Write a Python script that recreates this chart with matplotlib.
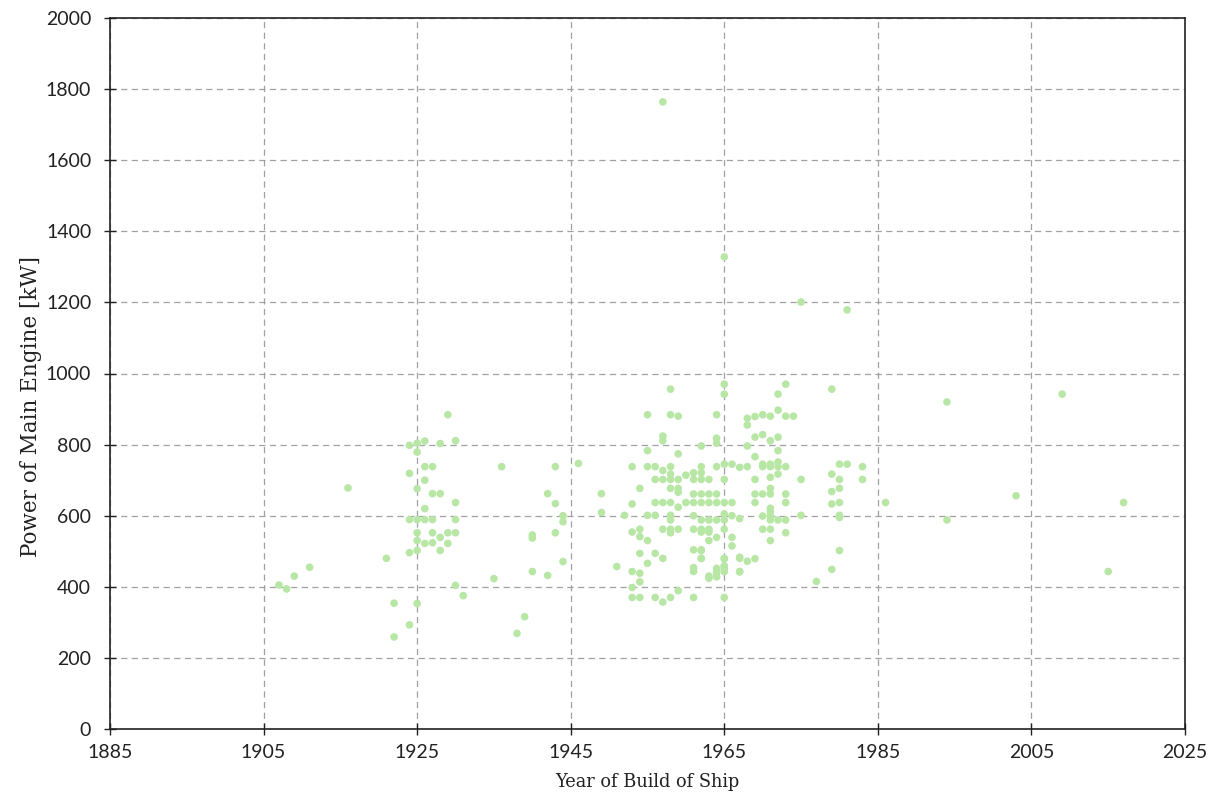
import matplotlib
matplotlib.use("Agg")
import matplotlib.pyplot as plt

# (year, kW) pairs
years = [
    1907, 1908, 1909, 1911, 1916, 1921, 1922, 1922, 1924, 1925, 1926, 1928, 1930, 1929,
    1925, 1926, 1927, 1924, 1926, 1936, 1925, 1927, 1928, 1930, 1926, 1924, 1925, 1926,
    1927, 1930, 1925, 1927, 1928, 1929, 1930, 1925, 1926, 1927, 1929, 1924, 1925, 1928,
    1935, 1930, 1931, 1925, 1924,
    1943, 1946, 1942, 1943, 1944, 1944, 1940, 1940, 1943, 1944, 1940, 1942, 1939, 1938,
    1949, 1949, 1951, 1952,
    1965, 1958, 1965, 1955, 1958, 1959, 1964, 1957, 1957, 1964, 1964, 1962, 1955, 1959,
    1965, 1966, 1953, 1955, 1956, 1958, 1962, 1964, 1967, 1957, 1961, 1962, 1960, 1958,
    1956, 1957, 1958, 1959, 1961, 1962, 1963, 1965, 1954, 1958, 1959, 1959, 1961, 1962,
    1963, 1964, 1956, 1957, 1958, 1960, 1961, 1962, 1963, 1964, 1965, 1966, 1953, 1959,
    1955, 1956, 1958, 1961, 1965, 1966, 1967, 1958, 1962, 1963, 1964, 1965, 1957, 1958,
    1959, 1961, 1962, 1963, 1954, 1953, 1958, 1962, 1963, 1965, 1954, 1966, 1955, 1963,
    1964, 1966, 1961, 1962, 1954, 1956, 1957, 1962, 1965, 1967, 1955, 1961, 1961, 1965,
    1965, 1964, 1964, 1953, 1967, 1954, 1963, 1954, 1953, 1959, 1953, 1954, 1956, 1958,
    1961, 1965, 1957, 1963, 1964, 1964, 1962, 1962, 1965, 1965, 1965,
    1973, 1972, 1979, 1972, 1968, 1968, 1969, 1970, 1971, 1973, 1974, 1969, 1970, 1971,
    1972, 1968, 1972, 1969, 1968, 1970, 1970, 1971, 1971, 1972, 1972, 1973, 1972, 1971,
    1969, 1975, 1980, 1981, 1983, 1979, 1980, 1983, 1971, 1969, 1970, 1971, 1973, 1979,
    1980, 1969, 1973, 1979, 1980, 1971, 1971, 1970, 1971, 1971, 1972, 1973, 1975, 1980,
    1980, 1970, 1971, 1973, 1971, 1967, 1968, 1969, 1967, 1980, 1979, 1977,
    1981, 1994, 1986, 1994, 2009, 2003, 2017, 2015, 1957, 1965, 1975,
]
power_kw = [
    405, 394, 430, 455, 678, 480, 354, 259, 798, 804, 810, 803, 811, 884,
    779, 738, 738, 719, 700, 738, 676, 662, 662, 637, 620, 589, 589, 589,
    589, 589, 552, 552, 539, 552, 552, 530, 522, 524, 522, 496, 502, 502,
    423, 404, 375, 353, 293,
    738, 747, 662, 634, 600, 583, 546, 537, 552, 471, 443, 432, 316, 269,
    662, 609, 457, 601,
    970, 956, 942, 884, 884, 880, 884, 824, 811, 818, 804, 796, 783, 774,
    745, 745, 738, 738, 738, 738, 738, 738, 736, 727, 721, 721, 714, 717,
    702, 702, 702, 702, 702, 702, 702, 702, 677, 677, 677, 666, 661, 661,
    661, 661, 637, 637, 637, 637, 637, 637, 637, 637, 637, 637, 633, 624,
    601, 601, 601, 600, 605, 600, 592, 588, 588, 588, 588, 588, 562, 562,
    562, 562, 562, 562, 562, 554, 552, 554, 554, 562, 541, 539, 530, 530,
    539, 515, 504, 504, 494, 494, 480, 480, 480, 480, 466, 454, 443, 457,
    443, 438, 452, 443, 443, 438, 424, 414, 398, 389, 370, 370, 370, 370,
    370, 370, 357, 430, 442, 428, 502, 480, 479, 459, 449,
    970, 942, 956, 897, 874, 855, 879, 884, 880, 880, 880, 821, 828, 811,
    821, 796, 783, 766, 738, 745, 738, 745, 738, 751, 738, 738, 717, 708,
    702, 702, 745, 745, 738, 717, 702, 702, 677, 661, 661, 661, 661, 668,
    677, 637, 637, 633, 637, 621, 611, 599, 599, 588, 588, 588, 601, 601,
    595, 562, 562, 552, 530, 483, 472, 479, 442, 502, 449, 415,
    1179, 920, 637, 588, 942, 656, 637, 443, 1764, 1328, 1201,
]

x_ticks = [1885, 1905, 1925, 1945, 1965, 1985, 2005, 2025]
y_ticks = [0, 200, 400, 600, 800, 1000, 1200, 1400, 1600, 1800, 2000]

fig = plt.figure(figsize=(12.17, 7.94), dpi=100)
ax = fig.add_axes([110 / 1217, 1 - 729 / 794, 1075 / 1217, 711 / 794])

ax.scatter(years, power_kw, s=30, color="#b7e6a5", edgecolors="none", zorder=3)

ax.set_xlim(1885, 2025)
ax.set_ylim(0, 2000)
ax.set_xticks(x_ticks)
ax.set_yticks(y_ticks)
ax.set_axisbelow(True)
ax.grid(True, linestyle=(0, (5, 3.5)), color="#a0a0a0", linewidth=0.9)

for sp in ax.spines.values():
    sp.set_linewidth(1.2)
    sp.set_color("#222222")

ax.tick_params(direction="inout", length=9, width=1.0, pad=6, labelsize=14,
               colors="#222222")
ax.tick_params(axis="y", pad=9)
for lab in ax.get_xticklabels() + ax.get_yticklabels():
    lab.set_fontfamily("Lato")

ax.set_xlabel("Year of Build of Ship", family="DejaVu Serif", fontsize=12.8,
              color="#222222")
ax.set_ylabel("Power of Main Engine [kW]", family="DejaVu Serif", fontsize=15.5,
              color="#222222")
ax.xaxis.set_label_coords(0.5, -0.062)
ax.yaxis.set_label_coords(-0.063, 0.453)

fig.savefig("out.png", dpi=100)
